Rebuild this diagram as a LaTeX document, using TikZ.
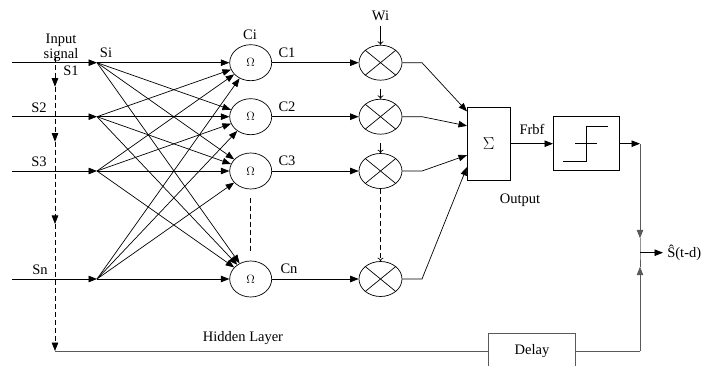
\documentclass[tikz,border=0pt]{standalone}
\usepackage{fontspec}
\setmainfont{Liberation Serif}
\usetikzlibrary{arrows.meta,calc,shapes.geometric}

\begin{document}
\begin{tikzpicture}[x=1pt,y=-1pt,
  line width=0.7pt,
  lbl/.style={font=\fontsize{14.5}{15}\selectfont, inner sep=0pt},
  omega/.style={draw, ellipse, minimum width=42pt, minimum height=36pt, inner sep=0pt,
                font=\fontsize{12.5}{13}\selectfont},
  mult/.style={draw, ellipse, minimum width=43pt, minimum height=35pt, inner sep=0pt},
  blk/.style={draw, rectangle, inner sep=0pt},
  fat/.style={-{Triangle[length=8.5pt,width=6.5pt]}},
  thin/.style={-{To[length=3.5pt,width=6pt]}},
  loop/.style={draw=black!65}
]
\useasboundingbox (0,0) rectangle (712,366);
\clip (0,0) rectangle (712,366);

% input lines and their arrow tips
\foreach \i/\y in {1/62.7, 2/116.7, 3/171, 4/279} {
  \coordinate (a\i) at (12,\y);
  \coordinate (s\i) at (97,\y);
}

% hidden (Omega) units
\foreach \i/\y in {1/62.7, 2/116.7, 3/171, 4/279}
  \node[omega] (c\i) at (250.7,\y) {$\Omega$};

% multipliers with a cross
\foreach \i/\y in {1/62.7, 2/116.7, 3/171, 4/279} {
  \node[mult] (m\i) at (380.5,\y) {};
  \draw (m\i.north west) -- (m\i.south east);
  \draw (m\i.north east) -- (m\i.south west);
}

% summing block, step block, delay block
\node[blk, minimum width=42.7pt, minimum height=72.3pt,
      font=\fontsize{17}{18}\selectfont] (sum) at (488.7,143.9) {$\Sigma$};
\node[blk, minimum width=65.7pt, minimum height=54pt] (stepbox) at (586.2,143.7) {};
\node[blk, loop, minimum width=87.4pt, minimum height=36pt, lbl] (delay) at (532,351) {Delay};

% step characteristic inside its block
\draw (563,161.7) -- (586,161.7) -- (586,126) -- (608.3,126);
\draw (575,143.3) -- (597.3,143.3);

% inputs
\foreach \i in {1,...,4}
  \draw[fat] (a\i) -- (s\i);

% full connection inputs -> hidden units
\foreach \i in {1,...,4}
  \foreach \j in {1,...,4}
    \draw[fat] (s\i) -- (c\j);

% hidden units -> multipliers
\foreach \i in {1,...,4}
  \draw[fat] (c\i) -- (m\i);

% weights
\coordinate (w1) at (380.5,26);
\coordinate (w2) at (380.5,89);
\coordinate (w3) at (380.5,143);
\draw[thin] (w1) -- (m1.north);
\draw[thin] (w2) -- (m2.north);
\draw[thin] (w3) -- (m3.north);

% ellipsis between unit 3 and unit n
\draw[dashed, dash pattern=on 5pt off 3pt] (250.7,198) -- (250.7,253);
\draw[thin, dashed, dash pattern=on 5pt off 3pt] (m3.south) -- (m4.north);

% multipliers -> sum
\coordinate (k1) at (422,62.7);
\coordinate (k2) at (422,116.7);
\coordinate (k3) at (422,171);
\coordinate (k4) at (422,279);
\draw[fat] (m1.east) -- (k1) -- ($(sum.north west)!0.055!(sum.south west)$);
\draw[fat] (m2.east) -- (k2) -- ($(sum.north west)!0.253!(sum.south west)$);
\draw[fat] (m3.east) -- (k3) -- ($(sum.north west)!0.654!(sum.south west)$);
\draw[fat] (m4.east) -- (k4) -- ($(sum.north west)!0.816!(sum.south west)$);

% sum -> step
\draw[fat] (sum.east |- stepbox.west) -- (stepbox.west);

% output branch
\coordinate (o1) at (640,143.7);
\coordinate (o2) at (640,238.3);
\coordinate (jn) at (640,252.7);
\coordinate (o3) at (640,266.7);
\coordinate (o4) at (640,351);
\coordinate (out) at (663,252.7);
\draw[fat] (stepbox.east) -- (o1);
\draw[loop, fat] (o1) -- (o2);
\draw[loop] (o2) -- (jn) -- (o3);
\draw[loop] (delay.east) -- (o4);
\draw[loop, fat] (o4) -- (o3);
\draw[fat] (jn) -- (out);

% feedback of delayed output along the input side
\coordinate (d0) at (55,57);
\coordinate (d1) at (55,86.7);
\coordinate (d2) at (55,141.7);
\coordinate (d3) at (55,224);
\coordinate (d4) at (55,351);
\draw[fat, dashed, dash pattern=on 5pt off 3pt] (d0) -- (d1);
\draw[fat, dashed, dash pattern=on 5pt off 3pt] (d1) -- (d2);
\draw[fat, dashed, dash pattern=on 5pt off 3pt] (d2) -- (d3);
\draw[fat, dashed, dash pattern=on 5pt off 3pt] (d3) -- (d4);
\draw[loop] (d4) -- (delay.west);

% labels
\node[lbl] (tin) at (61,40.5) {Input};
\node[lbl] (tsg) at (61,55.5) {signal};
\node[lbl] (tsi) at (106,53) {Si};
\node[lbl] (ts1) at (71,71) {S1};
\node[lbl] (ts2) at (39,108) {S2};
\node[lbl] (ts3) at (39,162) {S3};
\node[lbl] (tsn) at (40,270) {Sn};
\node[lbl] (tci) at (250,35) {Ci};
\node[lbl] (tc1) at (287,53) {C1};
\node[lbl] (tc2) at (287,107) {C2};
\node[lbl] (tc3) at (287,161) {C3};
\node[lbl] (tcn) at (289,269) {Cn};
\node[lbl] (twi) at (380.5,16) {Wi};
\node[lbl] (tfr) at (532,129) {Frbf};
\node[lbl] (tou) at (520,200) {Output};
\node[lbl] (thl) at (243,338) {Hidden Layer};
\node[lbl, anchor=west] (ts) at (667,252.7) {Ŝ(t-d)};
\end{tikzpicture}
\end{document}
